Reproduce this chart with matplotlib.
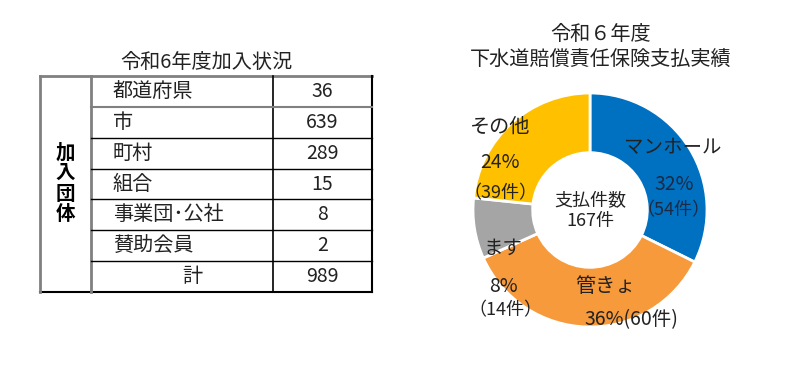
import matplotlib
matplotlib.use("Agg")
import matplotlib.pyplot as plt

plt.rcParams['font.family'] = ['Noto Sans CJK JP', 'DejaVu Sans']

# table data
table_title = "令和6年度加入状況"
group_label = "加入団体"
row_names = ["都道府県", "市", "町村", "組合", "事業団･公社", "賛助会員"]
row_values = [36, 639, 289, 15, 8, 2]
total_label = "計"
total_value = 989

# donut data
pie_title = "令和６年度\n下水道賠償責任保険支払実績"
pie_names = ["マンホール", "管きょ", "ます", "その他"]
pie_counts = [54, 60, 14, 39]
pie_pcts = [32, 36, 8, 24]
pie_colors = ["#0070C0", "#F79A3B", "#A5A5A5", "#FFC000"]
center_label = "支払件数"

W, H = 799, 368


def draw_table(ax):
    x0, x1, x2, x3 = 40, 91, 273, 372
    top, bottom = 76, 292
    n = len(row_names) + 1
    h = (bottom - top) / n
    grey = "#808080"
    txt = "#222222"

    ax.text(206, 62, table_title, ha="center", va="center", fontsize=14.5, color=txt)

    ax.plot([x0, x3], [top, top], color=grey, lw=2)
    ax.plot([x0, x3], [bottom, bottom], color="black", lw=1.5)
    ax.plot([x0, x0], [top, bottom], color=grey, lw=2)
    ax.plot([x1, x1], [top, bottom], color=grey, lw=2)
    ax.plot([x2, x2], [top, bottom], color="black", lw=1.2)
    ax.plot([x3, x3], [top, bottom], color="black", lw=1.5)
    for i in range(1, n):
        y = top + i * h
        ax.plot([x1, x3], [y, y], color=grey if i == 1 else "black",
                lw=1.5 if i == 1 else 1.0)

    # vertical group label, one character per line
    pitch = 20.5
    for k, ch in enumerate(group_label):
        yk = (top + bottom) / 2 + (k - (len(group_label) - 1) / 2) * pitch
        ax.text((x0 + x1) / 2, yk, ch, ha="center", va="center",
                fontsize=14, fontweight="bold")

    for i, (name, val) in enumerate(zip(row_names, row_values)):
        yc = top + (i + 0.5) * h
        ax.text(113, yc, name, ha="left", va="center", fontsize=14.5, color=txt)
        ax.text((x2 + x3) / 2, yc, str(val), ha="center", va="center", fontsize=14, color=txt)
    yc = top + (n - 0.5) * h
    ax.text(192, yc, total_label, ha="center", va="center", fontsize=14.5, color=txt)
    ax.text((x2 + x3) / 2, yc, str(total_value), ha="center", va="center", fontsize=14, color=txt)


def draw_donut(fig):
    cx, cy, r = 590, 210, 117
    pax = fig.add_axes([(cx - r) / W, 1 - (cy + r) / H, 2 * r / W, 2 * r / H])
    pax.pie(pie_counts, colors=pie_colors, startangle=90, counterclock=False,
            wedgeprops=dict(width=0.51, edgecolor="white", linewidth=2))
    pax.set_xlim(-1, 1)
    pax.set_ylim(-1, 1)
    pax.set_aspect("equal")
    pax.axis("off")


def donut_labels(ax):
    txt = "#222222"
    dark = "#1c2a44"
    ax.text(601, 47, pie_title, ha="center", va="center", fontsize=14.5,
            linespacing=1.2, color=txt)
    ax.text(590, 211, f"{center_label}\n{sum(pie_counts)}件", ha="center", va="center",
            fontsize=13, linespacing=1.15, color=txt)
    # マンホール
    ax.text(673, 148, pie_names[0], ha="center", va="center", fontsize=14, color=txt)
    ax.text(674, 185, f"{pie_pcts[0]}%", ha="center", va="center", fontsize=14, color=dark)
    ax.text(673, 210, f"（{pie_counts[0]}件）", ha="center", va="center", fontsize=13, color=dark)
    # 管きょ
    ax.text(605, 287, pie_names[1], ha="center", va="center", fontsize=14.5, color=txt)
    ax.text(631, 320, f"{pie_pcts[1]}%({pie_counts[1]}件)", ha="center", va="center",
            fontsize=14, color=txt)
    # ます
    ax.text(503, 248, pie_names[2], ha="center", va="center", fontsize=14, color=txt)
    ax.text(503, 287, f"{pie_pcts[2]}%", ha="center", va="center", fontsize=14, color=txt)
    ax.text(505, 310, f"（{pie_counts[2]}件）", ha="center", va="center", fontsize=13, color=txt)
    # その他
    ax.text(500, 127, pie_names[3], ha="center", va="center", fontsize=14.5, color=txt)
    ax.text(500, 163, f"{pie_pcts[3]}%", ha="center", va="center", fontsize=14, color=txt)
    ax.text(500, 193, f"（{pie_counts[3]}件）", ha="center", va="center", fontsize=13, color=txt)


fig = plt.figure(figsize=(W / 100, H / 100), dpi=100)
fig.patch.set_facecolor("white")

draw_donut(fig)

# overlay axes in pixel coordinates for table and labels
ax = fig.add_axes([0, 0, 1, 1], facecolor="none")
ax.set_xlim(0, W)
ax.set_ylim(H, 0)
ax.axis("off")
draw_table(ax)
donut_labels(ax)

fig.savefig("out.png", dpi=100, facecolor="white")
